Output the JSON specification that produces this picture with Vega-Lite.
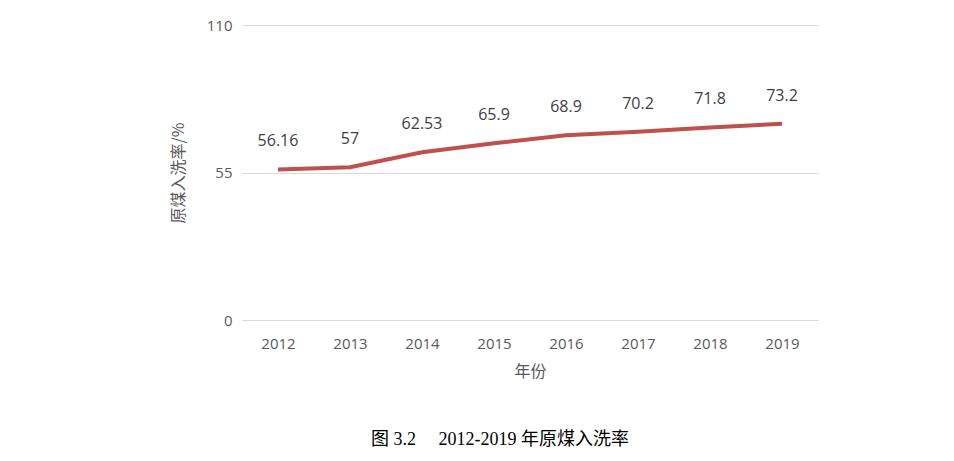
{
  "$schema": "https://vega.github.io/schema/vega-lite/v6.json",
  "width": 576,
  "height": 295,
  "autosize": {"type": "none"},
  "padding": {"left": 242, "top": 25, "right": 136, "bottom": 141},
  "background": "white",
  "title": {
    "text": "图 3.2\u2003\u20052012-2019 年原煤入洗率",
    "orient": "bottom",
    "anchor": "middle",
    "offset": 52,
    "dx": -30,
    "font": "Liberation Serif, Noto Sans CJK SC",
    "fontSize": 18,
    "fontWeight": "normal",
    "color": "#000000"
  },
  "data": {
    "values": [
      {"year": "2012", "rate": 56.16, "label": "56.16"},
      {"year": "2013", "rate": 57, "label": "57"},
      {"year": "2014", "rate": 62.53, "label": "62.53"},
      {"year": "2015", "rate": 65.9, "label": "65.9"},
      {"year": "2016", "rate": 68.9, "label": "68.9"},
      {"year": "2017", "rate": 70.2, "label": "70.2"},
      {"year": "2018", "rate": 71.8, "label": "71.8"},
      {"year": "2019", "rate": 73.2, "label": "73.2"}
    ]
  },
  "config": {
    "view": {"stroke": null},
    "font": "Open Sans, Noto Sans CJK SC",
    "axis": {
      "labelFont": "Open Sans, Noto Sans CJK SC",
      "titleFont": "Noto Sans CJK SC",
      "labelColor": "#595959",
      "titleColor": "#595959",
      "labelFontSize": 15,
      "titleFontSize": 16,
      "titleFontWeight": "normal"
    }
  },
  "encoding": {
    "x": {
      "field": "year",
      "type": "ordinal",
      "scale": {"type": "point", "padding": 0.5},
      "axis": {
        "title": "年份",
        "labelAngle": 0,
        "ticks": false,
        "domainColor": "#d9d9d9",
        "labelPadding": 16,
        "titlePadding": 12,
        "grid": false
      }
    },
    "y": {
      "field": "rate",
      "type": "quantitative",
      "scale": {"domain": [0, 110], "nice": false},
      "axis": {
        "title": "原煤入洗率/%",
        "values": [0, 55, 110],
        "ticks": false,
        "domain": false,
        "gridColor": "#d9d9d9",
        "labelPadding": 10,
        "titlePadding": 20
      }
    }
  },
  "layer": [
    {
      "mark": {"type": "line", "color": "#c0504d", "strokeWidth": 4}
    },
    {
      "mark": {"type": "text", "dy": -28, "fontSize": 16, "color": "#404040", "font": "Open Sans"},
      "encoding": {"text": {"field": "label"}}
    }
  ]
}
